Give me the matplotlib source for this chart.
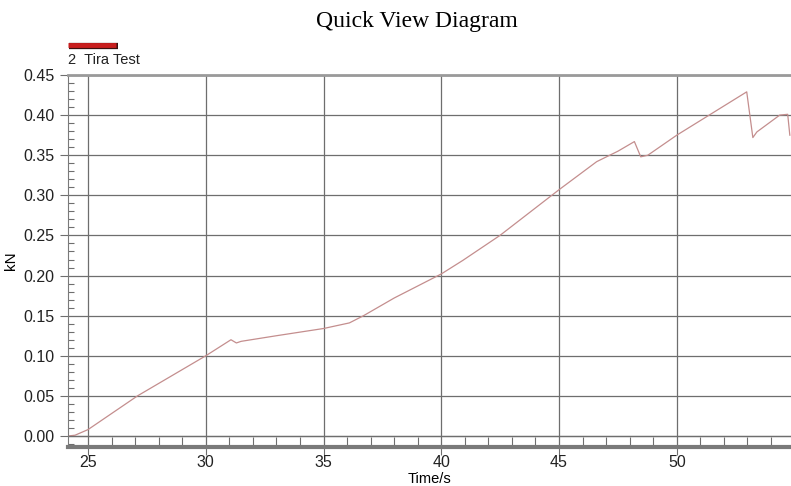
import numpy as np
import matplotlib.pyplot as plt
from matplotlib.lines import Line2D
from matplotlib.ticker import MultipleLocator

# time [s] and force [kN]
t = [24.15, 24.45, 25.0, 27.1, 30.0, 31.07, 31.3, 31.5, 33.0, 35.0,
     36.1, 36.7, 38.0, 40.0, 40.92, 42.49, 45.0, 46.6, 47.5, 48.2,
     48.47, 48.77, 50.0, 52.97, 53.23, 53.4, 54.37, 54.71, 54.8]
kN = [0.0, 0.001, 0.008, 0.050, 0.100, 0.120, 0.116, 0.118, 0.125, 0.134,
      0.141, 0.150, 0.172, 0.202, 0.219, 0.250, 0.307, 0.342, 0.355, 0.367,
      0.348, 0.350, 0.375, 0.429, 0.372, 0.379, 0.400, 0.401, 0.375]

series_label = '2  Tira Test'
title = 'Quick View Diagram'

fig = plt.figure(figsize=(7.91, 4.86), dpi=100)
W, H = 791, 486
ax = fig.add_axes([68 / W, 39 / H, 1 - 68 / W, (447 - 75) / H])

ax.plot(t, kN, color='#c48e8e', lw=0.9)

ax.set_xlim(24.15, 54.85)
ax.set_ylim(-0.0137, 0.45)
ax.set_xticks([25, 30, 35, 40, 45, 50])
ax.set_yticks(np.arange(0, 0.451, 0.05))
ax.set_yticklabels(['%.2f' % v for v in np.arange(0, 0.451, 0.05)])
ax.xaxis.set_minor_locator(MultipleLocator(1))
ax.yaxis.set_minor_locator(MultipleLocator(0.01))

ax.grid(True, which='major', color='#6e6e6e', lw=0.9)
ax.tick_params(which='major', direction='out', length=6, color='#6e6e6e',
               labelsize=11.5, labelcolor='#222222')
ax.tick_params(axis='x', which='major', length=5.5, pad=0)
ax.tick_params(axis='x', which='minor', direction='in', length=7.5,
               color='#6e6e6e', width=0.8)
ax.tick_params(axis='y', which='minor', direction='in', length=4,
               color='#6e6e6e', width=0.8)
for lab in ax.get_xticklabels() + ax.get_yticklabels():
    lab.set_family('Liberation Sans')

ax.spines['right'].set_visible(False)
ax.spines['top'].set_color('#9a9a9a')
ax.spines['top'].set_linewidth(2)
ax.spines['left'].set_color('#7a7a7a')
ax.spines['bottom'].set_color('#7a7a7a')
ax.spines['bottom'].set_linewidth(3)
ax.axhline(0, color='#6e6e6e', lw=0.9)

ax.set_xlabel('Time/s', fontsize=10.5, family='Liberation Sans')
ax.xaxis.set_label_coords(0.5, -0.066)
ax.set_ylabel('kN', fontsize=11, family='Liberation Sans', labelpad=4)

fig.text(0.527, 1 - 22 / H, title, ha='center', va='center',
         fontsize=17, family='Liberation Serif')

# legend swatch
fig.add_artist(Line2D([69 / W, 118 / W], [1 - 46 / H, 1 - 46 / H],
                      color='#3a1010', lw=4.5, solid_capstyle='butt'))
fig.add_artist(Line2D([68 / W, 116 / W], [1 - 45 / H, 1 - 45 / H],
                      color='#c81e1e', lw=3.5, solid_capstyle='butt'))
fig.text(68 / W, 1 - 60 / H, series_label, ha='left', va='center',
         fontsize=10.5, family='Liberation Sans', color='#222222')

plt.savefig('out.png', dpi=100)
